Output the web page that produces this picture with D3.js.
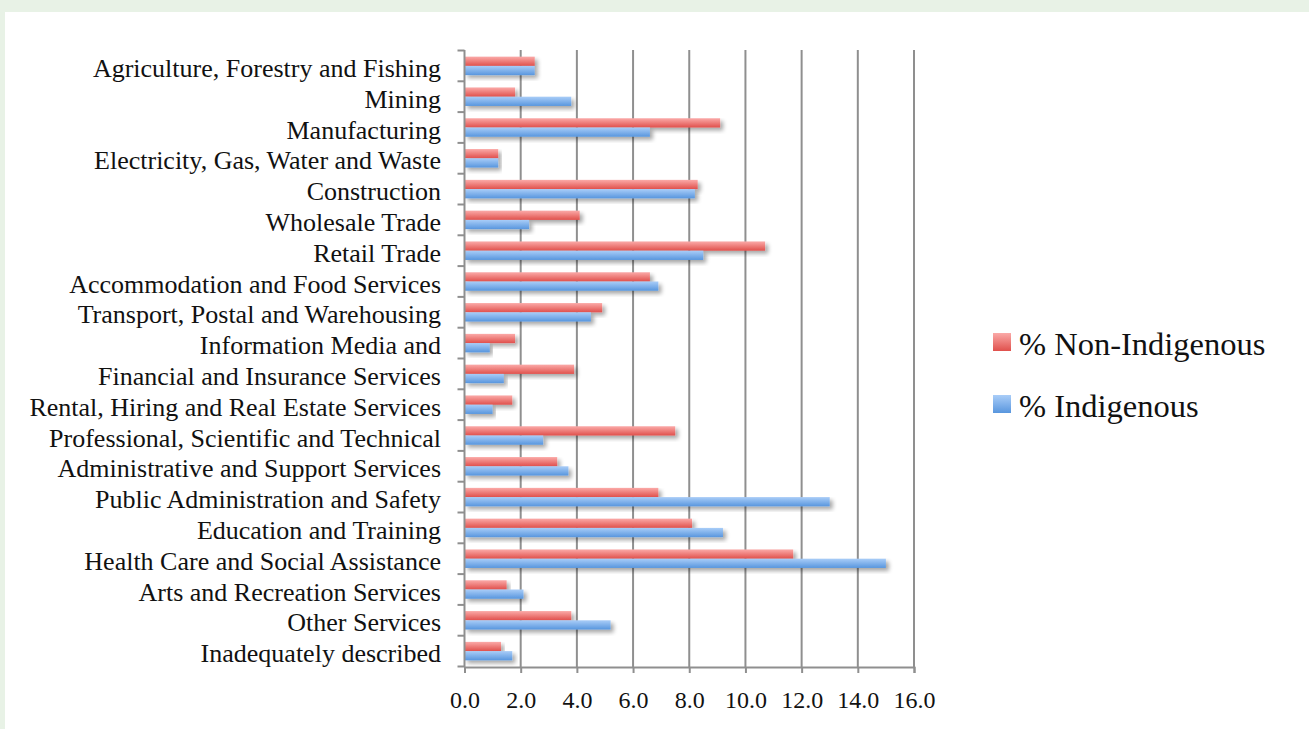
<!DOCTYPE html>
<html>
<head>
<meta charset="utf-8">
<script src="https://cdn.jsdelivr.net/npm/d3@7"></script>
<style>
  body { margin: 0; background: #e8f2e6; }
  svg { display: block; }
  .cat { font-family: "Liberation Serif", serif; font-size: 26px; fill: #111; }
  .tick text { font-family: "Liberation Serif", serif; font-size: 24px; fill: #111; }
  .legend text { font-family: "Liberation Serif", serif; font-size: 32.5px; fill: #111; }
</style>
</head>
<body>
<script>
var categories = ['Agriculture, Forestry and Fishing','Mining','Manufacturing',
    'Electricity, Gas, Water and Waste','Construction','Wholesale Trade','Retail Trade',
    'Accommodation and Food Services','Transport, Postal and Warehousing',
    'Information Media and','Financial and Insurance Services',
    'Rental, Hiring and Real Estate Services','Professional, Scientific and Technical',
    'Administrative and Support Services','Public Administration and Safety',
    'Education and Training','Health Care and Social Assistance',
    'Arts and Recreation Services','Other Services','Inadequately described'],
    nonIndigenous = [2.5,1.8,9.1,1.2,8.3,4.1,10.7,6.6,4.9,1.8,3.9,1.7,7.5,3.3,6.9,8.1,11.7,1.5,3.8,1.3],
    indigenous   = [2.5,3.8,6.6,1.2,8.2,2.3,8.5,6.9,4.5,0.9,1.4,1.0,2.8,3.7,13.0,9.2,15.0,2.1,5.2,1.7],
    xTicks = [0,2,4,6,8,10,12,14,16],
    seriesNames = ['% Non-Indigenous','% Indigenous'];

var width = 1309, height = 729;

var svg = d3.select("body").append("svg")
    .attr("width", width)
    .attr("height", height);

// white panel
svg.append("rect")
    .attr("x", 5).attr("y", 12)
    .attr("width", width - 5).attr("height", height - 12)
    .attr("fill", "#fff");

var defs = svg.append("defs");
function grad(id, c0, c1) {
  var g = defs.append("linearGradient").attr("id", id)
      .attr("x1", 0).attr("y1", 0).attr("x2", 0).attr("y2", 1);
  g.append("stop").attr("offset", "0%").attr("stop-color", c0);
  g.append("stop").attr("offset", "100%").attr("stop-color", c1);
}
grad("gRed", "#fbaaa8", "#e0504c");
grad("gBlue", "#a9cdf8", "#5896de");

var shadow = defs.append("filter").attr("id", "shadow")
    .attr("x", "-5%").attr("y", "-30%").attr("width", "115%").attr("height", "190%");
shadow.append("feGaussianBlur").attr("in", "SourceAlpha").attr("stdDeviation", 2);
shadow.append("feOffset").attr("dx", 3).attr("dy", 3).attr("result", "b");
shadow.append("feComponentTransfer").append("feFuncA").attr("type", "linear").attr("slope", 0.35);
var merge = shadow.append("feMerge");
merge.append("feMergeNode");
merge.append("feMergeNode").attr("in", "SourceGraphic");

var x = d3.scaleLinear().domain([0, 16]).range([464.5, 914]);
var y = d3.scaleBand().domain(categories).range([50.5, 666.5]).paddingInner(0.4).paddingOuter(0.2);
var y0 = d3.scaleBand().domain(categories).range([50.5, 666.5]);
var sub = d3.scaleBand().domain([0, 1]).range([0, y.bandwidth()]);

// gridlines
svg.append("g").selectAll("line")
    .data(xTicks.slice(1))
  .enter().append("line")
    .attr("x1", function(d) { return x(d); })
    .attr("x2", function(d) { return x(d); })
    .attr("y1", 50).attr("y2", 667)
    .attr("stroke", "#8f8f8f").attr("stroke-width", 2);

// bars
var groups = svg.append("g").selectAll("g")
    .data(categories)
  .enter().append("g")
    .attr("transform", function(d) { return "translate(0," + y(d) + ")"; });

groups.append("rect")
    .attr("x", x(0))
    .attr("y", sub(0))
    .attr("height", sub.bandwidth())
    .attr("width", function(d, i) { return x(nonIndigenous[i]) - x(0); })
    .attr("fill", "url(#gRed)")
    .attr("filter", "url(#shadow)");

groups.append("rect")
    .attr("x", x(0))
    .attr("y", sub(1))
    .attr("height", sub.bandwidth())
    .attr("width", function(d, i) { return x(indigenous[i]) - x(0); })
    .attr("fill", "url(#gBlue)")
    .attr("filter", "url(#shadow)");

// y axis
var yAxis = svg.append("g")
    .attr("transform", "translate(" + x(0) + ",0)");
yAxis.append("line")
    .attr("y1", 50).attr("y2", 667)
    .attr("stroke", "#8f8f8f").attr("stroke-width", 2);
yAxis.selectAll(".ytick")
    .data(categories.concat([null]))
  .enter().append("line")
    .attr("class", "ytick")
    .attr("x1", -7).attr("x2", 0)
    .attr("y1", function(d, i) { return 50.5 + i * y0.step(); })
    .attr("y2", function(d, i) { return 50.5 + i * y0.step(); })
    .attr("stroke", "#8f8f8f").attr("stroke-width", 2);

svg.append("g").selectAll(".cat")
    .data(categories)
  .enter().append("text")
    .attr("class", "cat")
    .attr("x", 441)
    .attr("y", function(d) { return y0(d) + y0.bandwidth() / 2 + 2; })
    .attr("dy", "0.35em")
    .attr("text-anchor", "end")
    .text(function(d) { return d; });

// x axis
var xAxis = svg.append("g")
    .attr("transform", "translate(0,667)")
    .call(d3.axisBottom(x).tickValues(xTicks).tickFormat(d3.format(".1f")).tickSize(6).tickPadding(18));
xAxis.select(".domain").attr("stroke", "#8f8f8f").attr("stroke-width", 2);
xAxis.selectAll(".tick line").attr("stroke", "#8f8f8f").attr("stroke-width", 2);

// legend
var legend = svg.append("g").attr("class", "legend")
    .selectAll("g")
    .data(seriesNames)
  .enter().append("g")
    .attr("transform", function(d, i) { return "translate(993," + (333 + i * 62) + ")"; });
legend.append("rect")
    .attr("width", 18).attr("height", 18)
    .attr("fill", function(d, i) { return i ? "url(#gBlue)" : "url(#gRed)"; });
legend.append("text")
    .attr("x", 26).attr("y", 11)
    .attr("dy", "0.35em")
    .text(function(d) { return d; });
</script>
</body>
</html>
